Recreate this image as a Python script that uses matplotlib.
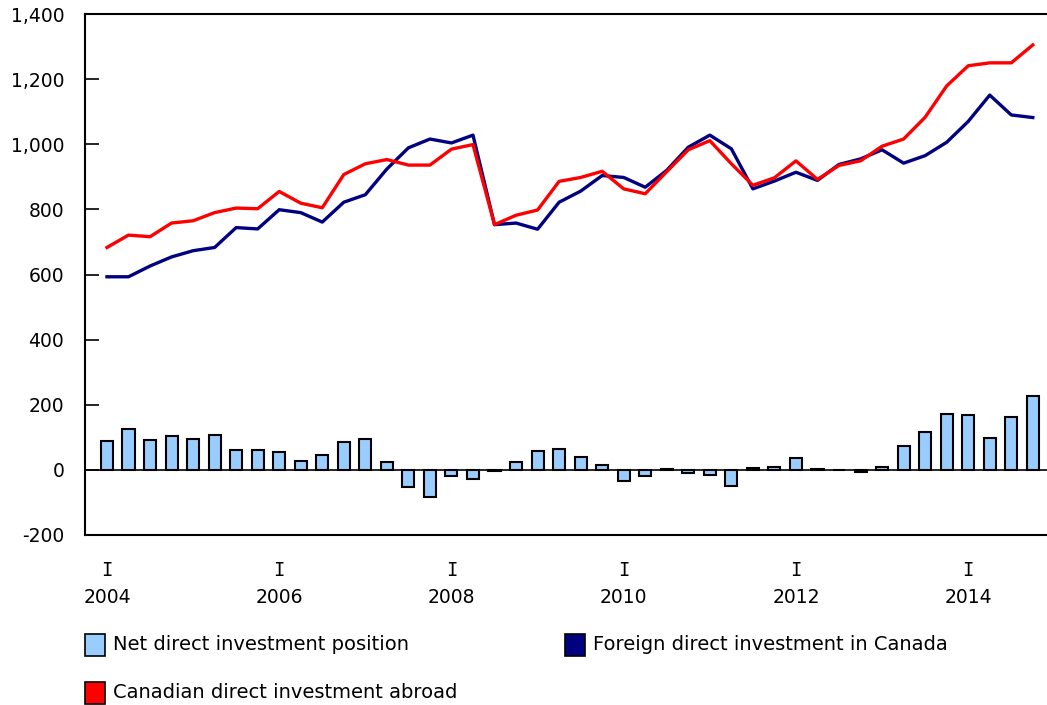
import numpy as np
import matplotlib
matplotlib.use("Agg")
import matplotlib.pyplot as plt
from matplotlib.patches import Rectangle
from matplotlib.transforms import blended_transform_factory

# trimestres 2004T1 .. 2014T4
anos = np.arange(2004, 2015)
trimestres = [f"{a}Q{q}" for a in anos for q in range(1, 5)]

# investissement direct etranger au Canada
fdi = [593, 593, 626, 654, 673, 683, 744, 740, 799, 790, 761, 822,
       845, 924, 989, 1016, 1004, 1028, 753, 758, 739, 822, 856, 904,
       898, 868, 920, 991, 1028, 986, 863, 887, 914, 889, 938, 955,
       983, 942, 965, 1006, 1070, 1151, 1090, 1082]

# investissement direct canadien a l'etranger
cdia = [683, 721, 716, 758, 765, 790, 804, 802, 855, 819, 805, 907,
        940, 953, 936, 936, 985, 999, 753, 782, 798, 886, 898, 917,
        863, 848, 916, 983, 1011, 940, 874, 897, 949, 892, 935, 949,
        994, 1016, 1083, 1179, 1241, 1250, 1250, 1305]

# position nette
net = [89, 125, 91, 104, 94, 106, 60, 62, 56, 28, 45, 87,
       96, 25, -53, -82, -20, -29, -3, 25, 58, 64, 41, 14,
       -33, -20, 2, -10, -17, -51, 7, 8, 35, 2, -1, -5,
       10, 73, 117, 171, 169, 99, 161, 226]

yticks = [-200, 0, 200, 400, 600, 800, 1000, 1200, 1400]
legend_labels = ["Net direct investment position",
                 "Foreign direct investment in Canada",
                 "Canadian direct investment abroad"]

cor_bar = "#99CCFF"
cor_fdi = "#000080"
cor_cdia = "#FF0000"

plt.rcParams['font.family'] = ['DejaVu Sans']
plt.rcParams['font.size'] = 13.5

W, H = 1047, 705
fig = plt.figure(figsize=(W / 100, H / 100), dpi=100)
ax = fig.add_axes([85 / W, (H - 535) / H, (W - 85) / W, 521 / H])

x = np.arange(len(trimestres))
ax.bar(x, net, width=0.56, color=cor_bar, edgecolor="black", linewidth=1.5, zorder=2)
ax.plot(x, fdi, color=cor_fdi, linewidth=2.4, zorder=3)
ax.plot(x, cdia, color=cor_cdia, linewidth=2.4, zorder=4)
ax.axhline(0, color="black", linewidth=1.2, zorder=2.5)

ax.set_xlim(-1.02, 43.66)
ax.set_ylim(-200, 1400)
ax.set_yticks(yticks)
ax.set_yticklabels([f"{v:,}" for v in yticks])
ax.tick_params(axis='y', direction='in', length=10, width=1.2, pad=15, labelsize=13.5)

# rótulos do eixo x: "I" (primeiro trimestre) e o ano
pos = [i for i, t in enumerate(trimestres) if t.endswith("Q1") and int(t[:4]) % 2 == 0]
ax.set_xticks(pos)
ax.set_xticklabels([trimestres[i][:4] for i in pos])
ax.tick_params(axis='x', length=0, pad=38, labelsize=13.5)
trans = blended_transform_factory(ax.transData, fig.transFigure)
for i in pos:
    ax.text(i, (H - 570) / H, "I", transform=trans, ha="center", va="center",
            fontsize=13.5, family="DejaVu Sans Mono")

for s in ["left", "top", "bottom"]:
    ax.spines[s].set_linewidth(1.5)
ax.spines["right"].set_visible(False)

# legenda manual
itens = [(85, 645, cor_bar, legend_labels[0]),
         (565, 645, cor_fdi, legend_labels[1]),
         (85, 693, cor_cdia, legend_labels[2])]
for px, py, cor, txt in itens:
    fig.patches.append(Rectangle((px / W, (H - py - 11) / H), 20 / W, 22 / H,
                                 transform=fig.transFigure, facecolor=cor,
                                 edgecolor="black", linewidth=1.2))
    fig.text((px + 28) / W, (H - py) / H, txt, va="center", ha="left", fontsize=14)

fig.savefig("out.png", dpi=100)
